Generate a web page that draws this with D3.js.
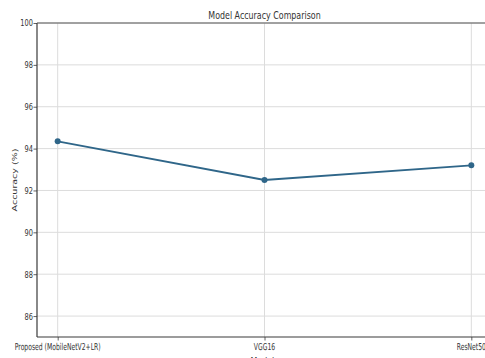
<!DOCTYPE html>
<html>
<head>
<meta charset="utf-8">
<script src="https://cdn.jsdelivr.net/npm/d3@7"></script>
<style>
  html, body { margin: 0; padding: 0; background: #fff; overflow: hidden; }
  svg { display: block; font-family: "DejaVu Sans", sans-serif; }
</style>
</head>
<body>
<svg id="chart" width="485" height="358"></svg>
<script>
// Model names and their accuracy (%)
const models = ["Proposed (MobileNetV2+LR)", "VGG16", "ResNet50"];
const accuracy = [94.35, 92.5, 93.2];
const yTicks = [86, 88, 90, 92, 94, 96, 98, 100];
const yDomain = [85, 100];

const svg = d3.select("#chart");
const margin = { left: 37, top: 23, right: 492, bottom: 337 };

const x = d3.scalePoint().domain(models).range([margin.left, margin.right]).padding(0.1);
const y = d3.scaleLinear().domain(yDomain).range([margin.bottom, margin.top]);

const lineColor = "#2f6689";
const gridColor = "#dcdcdc";
const spineColor = "#3a3a3a";
const textColor = "#333";

// places a text squeezed across its width around its anchor
function label(xp, yp, str, opts) {
  const rot = opts.rotate ? "rotate(-90)" : "";
  const sc = opts.rotate ? `scale(1,${opts.squeeze})` : `scale(${opts.squeeze},1)`;
  const g = svg.append("g").attr("transform", `translate(${xp},${yp}) ${rot} ${sc}`);
  g.append("text")
    .attr("text-anchor", opts.anchor || "middle")
    .attr("dominant-baseline", "central")
    .attr("font-size", opts.size)
    .attr("fill", textColor)
    .text(str);
  return g;
}

// grid
svg.append("g").selectAll("line").data(yTicks).join("line")
  .attr("x1", margin.left).attr("x2", margin.right)
  .attr("y1", d => y(d)).attr("y2", d => y(d))
  .attr("stroke", gridColor).attr("stroke-width", 1);
svg.append("g").selectAll("line").data(models).join("line")
  .attr("x1", d => x(d)).attr("x2", d => x(d))
  .attr("y1", margin.top).attr("y2", margin.bottom)
  .attr("stroke", gridColor).attr("stroke-width", 1);

// axes via d3
const yAxis = svg.append("g").attr("transform", `translate(${margin.left},0)`)
  .call(d3.axisLeft(y).tickValues(yTicks).tickSize(3.5).tickFormat(""));
const xAxis = svg.append("g").attr("transform", `translate(0,${margin.bottom})`)
  .call(d3.axisBottom(x).tickSize(3.5).tickFormat(""));
[yAxis, xAxis].forEach(a => {
  a.select(".domain").remove();
  a.selectAll(".tick line").attr("stroke", spineColor).attr("stroke-width", 0.8);
});

// tick labels
yTicks.forEach(t => label(33, y(t), String(t), { anchor: "end", size: 9.5, squeeze: 0.7 }));
models.forEach(m => label(x(m), 347, m, { anchor: "middle", size: 9.5, squeeze: 0.64 }));

// spines
svg.append("line").attr("x1", margin.left).attr("x2", margin.left)
  .attr("y1", margin.top).attr("y2", margin.bottom).attr("stroke", spineColor).attr("stroke-width", 1.2);
svg.append("line").attr("x1", margin.left).attr("x2", margin.right)
  .attr("y1", margin.bottom).attr("y2", margin.bottom).attr("stroke", spineColor).attr("stroke-width", 1.2);
svg.append("line").attr("x1", margin.left).attr("x2", margin.right)
  .attr("y1", margin.top).attr("y2", margin.top).attr("stroke", "#555").attr("stroke-width", 1.2);

// series line + markers
const pts = models.map((m, i) => [x(m), y(accuracy[i])]);
svg.append("path").attr("d", d3.line()(pts))
  .attr("fill", "none").attr("stroke", lineColor).attr("stroke-width", 1.8);
svg.append("g").selectAll("circle").data(pts).join("circle")
  .attr("cx", d => d[0]).attr("cy", d => d[1]).attr("r", 3)
  .attr("fill", lineColor);

// titles
label((margin.left + margin.right) / 2, 15, "Model Accuracy Comparison", { size: 11, squeeze: 0.72 });
label((margin.left + margin.right) / 2, 361, "Models", { size: 11, squeeze: 0.72 });
label(14, (margin.top + margin.bottom) / 2, "Accuracy (%)", { size: 9.5, squeeze: 0.8, rotate: true });
</script>
</body>
</html>
